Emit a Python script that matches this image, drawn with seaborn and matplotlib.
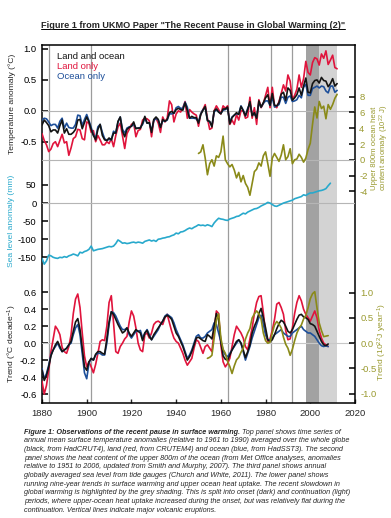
import matplotlib
matplotlib.use("Agg")
import matplotlib.pyplot as plt
import seaborn as sns
from matplotlib.lines import Line2D

# ---- data ----
temp_years = list(range(1880, 2013))
land_ocean = [
    -0.23, -0.15, -0.19, -0.24, -0.34, -0.31, -0.31, -0.36, -0.24, -0.15,
    -0.36, -0.29, -0.38, -0.38, -0.35, -0.30, -0.15, -0.14, -0.29, -0.19,
    -0.10, -0.18, -0.30, -0.40, -0.47, -0.30, -0.22, -0.40, -0.47, -0.48,
    -0.44, -0.47, -0.36, -0.36, -0.17, -0.10, -0.33, -0.42, -0.30, -0.27,
    -0.25, -0.18, -0.29, -0.28, -0.28, -0.20, -0.09, -0.20, -0.19, -0.35,
    -0.14, -0.10, -0.14, -0.27, -0.14, -0.17, -0.14, -0.03, -0.01, -0.04,
    0.02, 0.04, 0.02, 0.01, 0.13, 0.01, -0.12, -0.09, -0.11, -0.11,
    -0.20, -0.06, 0.01, 0.07, -0.16, -0.17, -0.26, 0.00, 0.03, -0.02,
    -0.05, 0.03, 0.03, 0.06, -0.21, -0.11, -0.07, -0.03, -0.06, 0.07,
    0.00, -0.08, 0.02, 0.15, -0.08, -0.03, -0.12, 0.16, 0.06, 0.13,
    0.21, 0.26, 0.09, 0.28, 0.09, 0.08, 0.13, 0.27, 0.30, 0.17,
    0.37, 0.33, 0.17, 0.21, 0.26, 0.37, 0.25, 0.40, 0.53, 0.30,
    0.29, 0.44, 0.49, 0.50, 0.45, 0.54, 0.49, 0.48, 0.39, 0.44,
    0.52, 0.40, 0.44,
]
land_only = [
    -0.37, -0.48, -0.55, -0.66, -0.62, -0.53, -0.50, -0.58, -0.48, -0.38,
    -0.52, -0.50, -0.72, -0.60, -0.45, -0.42, -0.30, -0.31, -0.45, -0.47,
    -0.18, -0.20, -0.35, -0.32, -0.50, -0.40, -0.47, -0.55, -0.55, -0.50,
    -0.53, -0.45, -0.58, -0.40, -0.26, -0.20, -0.40, -0.61, -0.37, -0.30,
    -0.22, -0.20, -0.42, -0.32, -0.30, -0.15, -0.12, -0.13, -0.16, -0.42,
    -0.15, -0.12, -0.20, -0.35, -0.10, -0.18, -0.12, 0.16, 0.10, -0.18,
    -0.05, 0.00, -0.02, 0.05, 0.15, -0.12, 0.02, -0.02, -0.05, -0.07,
    -0.25, -0.05, 0.02, 0.10, -0.12, -0.30, -0.28, 0.00, 0.08, 0.02,
    -0.05, 0.08, 0.04, 0.08, -0.22, -0.15, -0.22, -0.06, -0.15, 0.00,
    0.00, -0.12, -0.10, 0.22, -0.12, 0.05, -0.22, 0.18, 0.05, 0.12,
    0.25, 0.38, 0.05, 0.38, 0.08, 0.05, 0.15, 0.28, 0.42, 0.32,
    0.58, 0.48, 0.18, 0.25, 0.35, 0.58, 0.38, 0.52, 0.80, 0.62,
    0.58, 0.78, 0.86, 0.84, 0.74, 0.92, 0.85, 0.97, 0.75, 0.82,
    0.90, 0.70, 0.68,
]
ocean_only = [
    -0.15, -0.12, -0.13, -0.18, -0.24, -0.22, -0.22, -0.28, -0.17, -0.12,
    -0.28, -0.20, -0.27, -0.28, -0.28, -0.22, -0.07, -0.08, -0.24, -0.14,
    -0.06, -0.16, -0.27, -0.39, -0.44, -0.26, -0.22, -0.35, -0.45, -0.48,
    -0.46, -0.47, -0.33, -0.36, -0.18, -0.10, -0.30, -0.36, -0.28, -0.26,
    -0.25, -0.22, -0.28, -0.28, -0.27, -0.22, -0.12, -0.20, -0.20, -0.32,
    -0.16, -0.12, -0.15, -0.26, -0.16, -0.17, -0.15, -0.05, -0.05, -0.04,
    0.05, 0.07, 0.04, 0.04, 0.14, 0.06, -0.12, -0.12, -0.12, -0.13,
    -0.18, -0.05, 0.02, 0.05, -0.15, -0.18, -0.24, -0.02, 0.02, -0.02,
    -0.04, 0.01, 0.02, 0.04, -0.18, -0.10, -0.07, -0.05, -0.05, 0.08,
    0.01, -0.08, 0.04, 0.12, -0.06, -0.06, -0.10, 0.12, 0.06, 0.12,
    0.16, 0.16, 0.09, 0.22, 0.06, 0.08, 0.10, 0.22, 0.22, 0.12,
    0.22, 0.24, 0.15, 0.16, 0.18, 0.25, 0.21, 0.38, 0.43, 0.25,
    0.25, 0.36, 0.38, 0.40, 0.37, 0.40, 0.39, 0.32, 0.29, 0.40,
    0.40, 0.30, 0.33,
]

ohc_years = list(range(1950, 2013))
ocean_heat = [
    0.8, 1.0, 1.9, 0.2, -1.9, -0.5, 0.0, -0.8, 0.5, 0.3,
    1.0, 3.0, 0.0, -0.5, -0.9, -0.6, -1.3, -2.3, -1.6, -2.8,
    -2.0, -3.0, -3.5, -4.5, -3.0, -1.5, -1.2, -0.4, -0.8, 0.5,
    1.0, -0.5, -2.1, 0.2, 0.8, 0.3, -0.2, 0.6, 1.9, 0.0,
    0.4, 1.4, -0.5, 0.0, 0.1, 0.7, 0.3, -0.3, 0.2, 1.3,
    2.1, 4.5, 6.7, 5.3, 7.4, 6.5, 6.8, 5.2, 7.0, 6.4,
    7.0, 7.8, 8.3,
]

sea_years = list(range(1880, 2010))
sea_level = [
    -153, -169, -160, -144, -146, -150, -152, -153, -150, -151,
    -148, -150, -146, -144, -141, -143, -146, -136, -138, -134,
    -132, -128, -119, -132, -130, -128, -127, -126, -124, -122,
    -120, -121, -119, -112, -102, -106, -111, -110, -112, -111,
    -109, -108, -110, -108, -109, -111, -106, -104, -102, -105,
    -103, -106, -100, -99, -97, -96, -94, -93, -90, -88,
    -83, -85, -80, -79, -76, -72, -69, -71, -67, -64,
    -60, -62, -61, -63, -60, -62, -65, -55, -48, -42,
    -44, -45, -47, -48, -44, -42, -40, -37, -36, -32,
    -28, -30, -25, -22, -19, -16, -15, -12, -8, -5,
    -2, 2, 0, -4, -8, -9, -6, -3, 0, 2,
    4, 6, 8, 12, 14, 16, 18, 23, 21, 25,
    28, 28, 30, 32, 34, 35, 37, 40, 48, 55,
]

trend_years = list(range(1880, 2009))
trend_land_ocean = [
    -0.32, -0.44, -0.38, -0.28, -0.15, -0.08, -0.02, 0.02, -0.04, -0.10,
    -0.08, -0.06, -0.02, 0.02, 0.14, 0.25, 0.29, 0.16, -0.06, -0.28,
    -0.32, -0.22, -0.18, -0.20, -0.13, -0.10, -0.10, -0.12, -0.13, 0.05,
    0.25, 0.37, 0.34, 0.28, 0.22, 0.17, 0.12, 0.14, 0.18, 0.12,
    0.08, 0.12, 0.16, 0.14, 0.12, 0.03, 0.12, 0.15, 0.08, 0.04,
    0.10, 0.14, 0.18, 0.22, 0.26, 0.31, 0.33, 0.31, 0.28, 0.20,
    0.12, 0.08, 0.02, -0.04, -0.12, -0.20, -0.16, -0.10, -0.02, 0.06,
    0.07, 0.05, 0.03, 0.02, 0.10, 0.08, 0.05, 0.20, 0.35, 0.28,
    0.02, -0.15, -0.19, -0.20, -0.14, -0.08, -0.03, 0.02, 0.04, 0.00,
    -0.08, -0.17, -0.10, -0.02, 0.12, 0.20, 0.26, 0.35, 0.41, 0.30,
    0.18, 0.04, 0.02, 0.04, 0.10, 0.17, 0.23, 0.27, 0.25, 0.20,
    0.14, 0.12, 0.16, 0.22, 0.28, 0.33, 0.34, 0.31, 0.30, 0.28,
    0.23, 0.22, 0.20, 0.14, 0.08, 0.02, -0.02, -0.03, -0.01,
]
trend_land = [
    -0.45, -0.60, -0.50, -0.32, -0.10, 0.05, 0.20, 0.16, 0.10, -0.05,
    -0.10, -0.12, -0.04, 0.10, 0.35, 0.52, 0.58, 0.42, 0.12, -0.15,
    -0.28, -0.22, -0.28, -0.35, -0.25, -0.12, 0.02, 0.04, 0.03, 0.20,
    0.48, 0.56, 0.24, -0.10, -0.12, -0.04, 0.00, 0.05, 0.08, 0.25,
    0.38, 0.32, 0.18, 0.00, -0.08, -0.10, 0.10, 0.12, 0.06, 0.12,
    0.22, 0.25, 0.26, 0.24, 0.22, 0.30, 0.34, 0.24, 0.14, 0.06,
    0.02, 0.00, -0.06, -0.12, -0.20, -0.26, -0.22, -0.18, -0.06, 0.04,
    0.02, -0.05, -0.12, -0.04, -0.02, -0.06, -0.10, 0.15, 0.38, 0.35,
    -0.02, -0.22, -0.28, -0.24, -0.18, -0.04, 0.10, 0.20, 0.16, 0.12,
    0.06, -0.04, -0.08, 0.05, 0.18, 0.35, 0.48, 0.55, 0.56, 0.36,
    0.12, 0.02, 0.05, 0.15, 0.28, 0.46, 0.48, 0.42, 0.34, 0.15,
    0.04, 0.05, 0.18, 0.35, 0.48, 0.56, 0.50, 0.40, 0.34, 0.30,
    0.26, 0.32, 0.38, 0.30, 0.15, 0.06, 0.00, -0.02, -0.04,
]
trend_ocean = [
    -0.30, -0.42, -0.36, -0.26, -0.14, -0.08, -0.04, 0.00, -0.06, -0.10,
    -0.08, -0.06, -0.02, 0.00, 0.10, 0.18, 0.22, 0.10, -0.12, -0.35,
    -0.42, -0.24, -0.18, -0.20, -0.14, -0.12, -0.12, -0.14, -0.14, 0.00,
    0.22, 0.37, 0.36, 0.32, 0.26, 0.20, 0.16, 0.16, 0.18, 0.10,
    0.06, 0.10, 0.14, 0.14, 0.15, 0.06, 0.12, 0.16, 0.10, 0.04,
    0.08, 0.12, 0.16, 0.22, 0.26, 0.32, 0.34, 0.32, 0.30, 0.24,
    0.16, 0.10, 0.04, -0.02, -0.10, -0.18, -0.14, -0.08, 0.00, 0.08,
    0.10, 0.06, 0.06, 0.08, 0.12, 0.14, 0.16, 0.24, 0.22, 0.12,
    0.02, -0.08, -0.14, -0.16, -0.12, -0.08, -0.04, 0.00, 0.04, 0.00,
    -0.10, -0.20, -0.12, -0.04, 0.06, 0.14, 0.22, 0.30, 0.33, 0.22,
    0.10, 0.04, 0.04, 0.06, 0.10, 0.12, 0.14, 0.16, 0.12, 0.10,
    0.08, 0.08, 0.12, 0.14, 0.16, 0.18, 0.20, 0.16, 0.14, 0.12,
    0.12, 0.10, 0.08, 0.04, 0.00, -0.03, -0.04, -0.03, -0.04,
]
heat_trend_years = list(range(1954, 2009))
heat_uptake_trend = [
    -0.30, -0.28, -0.24, 0.10, 0.45, 0.58, 0.10, -0.12, -0.20, -0.36,
    -0.46, -0.60, -0.45, -0.33, -0.28, -0.18, -0.10, 0.08, 0.20, 0.29,
    0.50, 0.58, 0.64, 0.58, 0.48, 0.20, 0.05, 0.00, 0.02, 0.20,
    0.36, 0.43, 0.38, 0.30, 0.12, -0.02, -0.10, -0.24, -0.12, 0.05,
    0.20, 0.30, 0.36, 0.48, 0.55, 0.70, 0.88, 0.98, 1.02, 0.70,
    0.40, 0.25, 0.13, 0.14, 0.15,
]

volcano_years = [1883, 1902, 1963.2, 1982.3, 1991.6]
onset_period = (1998, 2004)
continuation_period = (2004, 2012)

caption_lines = [
    "annual mean surface temperature anomalies (relative to 1961 to 1990) averaged over the whole globe",
    "(black, from HadCRUT4), land (red, from CRUTEM4) and ocean (blue, from HadSST3). The second",
    "panel shows the heat content of the upper 800m of the ocean (from Met Office analyses, anomalies",
    "relative to 1951 to 2006, updated from Smith and Murphy, 2007). The third panel shows annual",
    "globally averaged sea level from tide gauges (Church and White, 2011). The lower panel shows",
    "running nine-year trends in surface warming and upper ocean heat uptake. The recent slowdown in",
    "global warming is highlighted by the grey shading. This is split into onset (dark) and continuation (light)",
    "periods, where upper-ocean heat uptake increased during the onset, but was relatively flat during the",
    "continuation. Vertical lines indicate major volcanic eruptions.",
]

# ---- style ----
BLACK = "#141414"
RED = "#e0143c"
BLUE = "#1d4f9a"
CYAN = "#28a9cc"
OLIVE = "#8a8a18"
OLIVE_TXT = "#9a9a30"

sns.set_style("ticks")
plt.rcParams["font.family"] = ["Liberation Sans", "DejaVu Sans"]
plt.rcParams["axes.unicode_minus"] = False
plt.rcParams["mathtext.fontset"] = "custom"
plt.rcParams["mathtext.rm"] = "Liberation Sans"
plt.rcParams["mathtext.it"] = "Liberation Sans:italic"

W, H = 391, 518
fig = plt.figure(figsize=(W / 100, H / 100), dpi=100)
L, R, T, B = 42, 355, 45, 403
pos = [L / W, 1 - B / H, (R - L) / W, (B - T) / H]


def lims(v1, p1, v2, p2):
    # y-limits so that value v lands on pixel row p inside the shared box
    s = (p2 - p1) / (v2 - v1)
    return v1 + (B - p1) / s, v1 + (T - p1) / s


def overlay(ylim, side="left", ticks=(), color="black"):
    a = fig.add_axes(pos)
    a.patch.set_visible(False)
    for s in a.spines.values():
        s.set_visible(False)
    a.set_xlim(1880, 2020)
    a.set_ylim(*ylim)
    a.tick_params(axis="x", bottom=False, labelbottom=False)
    a.set_yticks(ticks)
    if side == "right":
        a.yaxis.tick_right()
    a.tick_params(axis="y", direction="in", length=4, width=1.1,
                  labelsize=6.8, pad=4, labelcolor=color, color="black")
    return a


# main frame with shading and volcano lines
ax = fig.add_axes(pos)
ax.set_xlim(1880, 2020)
ax.set_ylim(0, 1)
ax.set_yticks([])
ax.set_xticks(range(1880, 2021, 20))
ax.tick_params(axis="x", direction="in", length=3, width=1, labelsize=6.8, pad=4)
for s in ax.spines.values():
    s.set_linewidth(1.1)
    s.set_color("black")
ax.axvspan(*onset_period, color="#a2a2a2", lw=0)
ax.axvspan(*continuation_period, color="#d3d3d3", lw=0)
for v in volcano_years:
    ax.axvline(v, color="#9c9c9c", lw=0.9)

# temperature panel
ax_t = overlay(lims(1.0, 49.0, -0.5, 141.7), ticks=[-0.5, 0.0, 0.5, 1.0])
ax_t.axhline(0, color="#b5b5b5", lw=0.8)
sns.lineplot(x=temp_years, y=land_only, ax=ax_t, color=RED, lw=1.2)
sns.lineplot(x=temp_years, y=ocean_only, ax=ax_t, color=BLUE, lw=1.2)
sns.lineplot(x=temp_years, y=land_ocean, ax=ax_t, color=BLACK, lw=1.2)
ax_t.set_yticklabels(["-0.5", "0.0", "0.5", "1.0"])

# ocean heat content (right)
ax_o = overlay(lims(8, 96.7, -4, 191.3), side="right",
               ticks=[-4, -2, 0, 2, 4, 6, 8], color=OLIVE_TXT)
ax_o.tick_params(axis="y", pad=3)
ax_o.axhline(0, color="#b5b5b5", lw=0.8)
sns.lineplot(x=ohc_years, y=ocean_heat, ax=ax_o, color=OLIVE, lw=1.2)

# sea level
ax_s = overlay(lims(50, 185.0, -150, 257.3), ticks=[-150, -100, -50, 0, 50])
ax_s.axhline(0, color="#b5b5b5", lw=0.8)
sns.lineplot(x=sea_years, y=sea_level, ax=ax_s, color=CYAN, lw=1.2)

# trends (left, deg C per decade)
ax_r = overlay(lims(0.6, 292.3, -0.6, 394.0),
               ticks=[-0.6, -0.4, -0.2, 0.0, 0.2, 0.4, 0.6])
ax_r.axhline(0, color="#c8c8c8", lw=0.8)
ax_r.set_yticklabels(["-0.6", "-0.4", "-0.2", "0.0", "0.2", "0.4", "0.6"])

# heat uptake trend (right)
ax_rr = overlay(lims(1.0, 292.7, -1.0, 393.7), side="right",
                ticks=[-1.0, -0.5, 0.0, 0.5, 1.0], color=OLIVE_TXT)
ax_rr.set_yticklabels(["-1.0", "-0.5", "0.0", "0.5", "1.0"])
sns.lineplot(x=heat_trend_years, y=heat_uptake_trend, ax=ax_rr, color=OLIVE, lw=1.2)
sns.lineplot(x=trend_years, y=trend_land, ax=ax_r, color=RED, lw=1.2)
sns.lineplot(x=trend_years, y=trend_ocean, ax=ax_r, color=BLUE, lw=1.2)
sns.lineplot(x=trend_years, y=trend_land_ocean, ax=ax_r, color=BLACK, lw=1.2)

for a in (ax_t, ax_o, ax_s, ax_r, ax_rr):
    a.set_xlabel("")
    a.set_ylabel("")

# legend
fig.text(57 / W, 1 - 56.5 / H, "Land and ocean", color=BLACK, fontsize=6.8, va="center")
fig.text(57 / W, 1 - 66.5 / H, "Land only", color=RED, fontsize=6.8, va="center")
fig.text(57 / W, 1 - 76.5 / H, "Ocean only", color=BLUE, fontsize=6.8, va="center")

# axis titles
fig.text(12 / W, 1 - 104 / H, "Temperature anomaly (°C)", rotation=90,
         ha="center", va="center", fontsize=6.1)
fig.text(12 / W, 1 - 221 / H, "Sea level anomaly (mm)", rotation=90,
         ha="center", va="center", fontsize=6.1, color=CYAN)
fig.text(12 / W, 1 - 344 / H, "Trend (°C decade$^{-1}$)", rotation=90,
         ha="center", va="center", fontsize=6.1)
fig.text(375 / W, 1 - 148 / H, "Upper 800m ocean heat", rotation=90,
         ha="center", va="center", fontsize=5.6, color=OLIVE_TXT)
fig.text(384.5 / W, 1 - 148 / H, "content anomaly (10$^{22}$ J)", rotation=90,
         ha="center", va="center", fontsize=5.6, color=OLIVE_TXT)
fig.text(382 / W, 1 - 342 / H, "Trend (10$^{22}$J year$^{-1}$)", rotation=90,
         ha="center", va="center", fontsize=6.1, color=OLIVE_TXT)

# title with underline
title = fig.text(193 / W, 1 - 25 / H,
                 'Figure 1 from UKMO Paper "The Recent Pause in Global Warming (2)"',
                 ha="center", va="center", fontsize=6.6, weight="bold")

# caption
cap_x = 24 / W
cap_fs = 5.2
first = fig.text(cap_x, 1 - 432 / H,
                 "Figure 1: Observations of the recent pause in surface warming.",
                 fontsize=cap_fs, style="italic", weight="bold", va="center")
fig.canvas.draw()
bb = first.get_window_extent()
fig.text(bb.x1 / W + 2 / W, 1 - 432 / H, "Top panel shows time series of",
         fontsize=cap_fs, style="italic", va="center")
for i, line in enumerate(caption_lines):
    fig.text(cap_x, 1 - (432 + 8.7 * (i + 1)) / H, line,
             fontsize=cap_fs, style="italic", va="center")

tb = title.get_window_extent()
fig.add_artist(Line2D([tb.x0 / W, tb.x1 / W], [(tb.y0 + 0.5) / H] * 2,
                      color="black", lw=0.7, transform=fig.transFigure))

fig.savefig("out.png", dpi=100)
